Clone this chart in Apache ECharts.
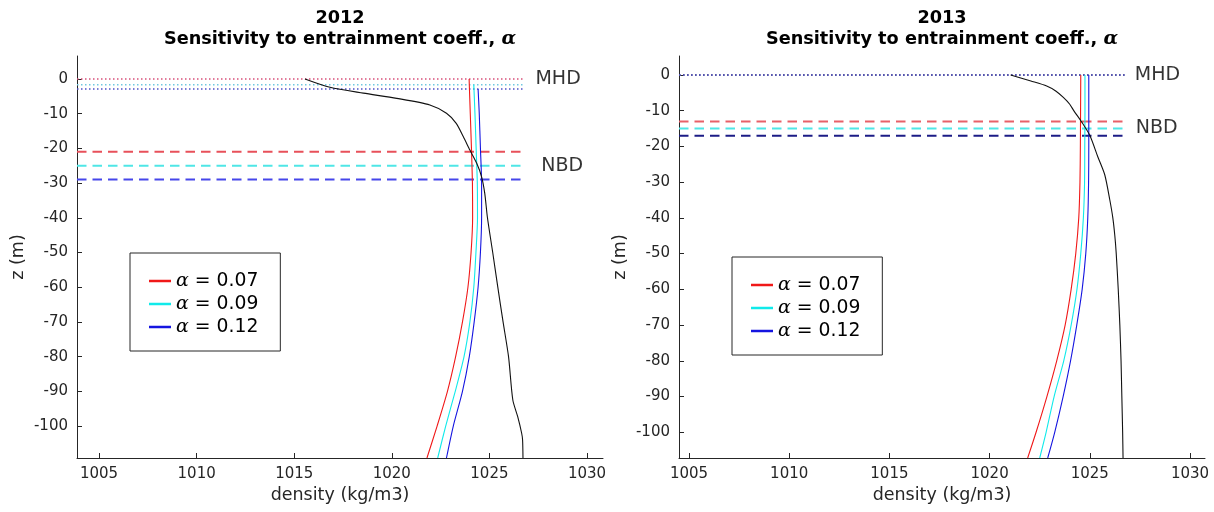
<!DOCTYPE html>
<html>
<head>
<meta charset="utf-8">
<script src="https://cdn.jsdelivr.net/npm/echarts@6/dist/echarts.min.js"></script>
<style>
  html, body { margin: 0; padding: 0; background: #fff; }
  #chart { width: 1214px; height: 512px; }
</style>
</head>
<body>
<div id="chart"></div>
<script>
// ---- data ----
var years = ['2012', '2013'];
var alphaNames = ['α = 0.07', 'α = 0.09', 'α = 0.12'];
var xTicks = [1005, 1010, 1015, 1020, 1025, 1030];
var yTicks = [0, -10, -20, -30, -40, -50, -60, -70, -80, -90, -100];

// 2012
var mhd2012 = [0, -1.7, -2.9];
var nbd2012 = [-21, -25, -29];
var obsZ2012 = [0, -2.4, -4.1, -5.6, -7.5, -9.9, -12.8, -16.6, -20.5, -24.3, -28.2, -32.9, -40, -50, -60, -70, -80, -92.5, -97.3, -102, -104, -109.2];
var obsRho2012 = [1015.55, 1016.83, 1018.54, 1020.25, 1021.95, 1022.8, 1023.3, 1023.66, 1024.0, 1024.35, 1024.6, 1024.76, 1024.9, 1025.17, 1025.43, 1025.7, 1025.98, 1026.2, 1026.45, 1026.65, 1026.7, 1026.72];
var redZ2012 = [0, -10, -20, -30, -40, -50, -60, -70, -80, -90, -100, -109.2];
var redRho2012 = [1023.96, 1024.02, 1024.08, 1024.13, 1024.14, 1024.06, 1023.9, 1023.62, 1023.27, 1022.85, 1022.32, 1021.8];
var cyanZ2012 = [-1.7, -10, -20, -30, -40, -50, -60, -70, -80, -90, -100, -109.2];
var cyanRho2012 = [1024.2, 1024.26, 1024.32, 1024.38, 1024.39, 1024.31, 1024.2, 1024.0, 1023.7, 1023.25, 1022.76, 1022.35];
var blueZ2012 = [-2.9, -10, -20, -30, -40, -50, -60, -70, -80, -90, -100, -109.2];
var blueRho2012 = [1024.42, 1024.48, 1024.54, 1024.6, 1024.6, 1024.54, 1024.42, 1024.22, 1023.97, 1023.62, 1023.15, 1022.8];

// 2013
var mhd2013 = [0, 0, 0];
var nbd2013 = [-13, -15, -17];
var obsZ2013 = [0, -1.7, -3.1, -4.5, -6.3, -8.2, -10, -13.2, -16.9, -22.9, -28, -35, -40, -45, -50, -60, -70, -80, -90, -100, -107.2];
var obsRho2013 = [1021.05, 1022.06, 1022.85, 1023.3, 1023.68, 1024.0, 1024.2, 1024.6, 1025.0, 1025.4, 1025.75, 1026.0, 1026.15, 1026.25, 1026.32, 1026.42, 1026.5, 1026.56, 1026.6, 1026.64, 1026.66];
var modelZ2013 = [0, -10, -20, -30, -40, -50, -60, -70, -80, -90, -100, -107.2];
var redRho2013 = [1024.55, 1024.54, 1024.53, 1024.51, 1024.45, 1024.3, 1024.07, 1023.77, 1023.35, 1022.86, 1022.32, 1021.9];
var cyanRho2013 = [1024.76, 1024.76, 1024.75, 1024.74, 1024.68, 1024.55, 1024.36, 1024.07, 1023.7, 1023.22, 1022.82, 1022.5];
var blueRho2013 = [1024.95, 1024.95, 1024.95, 1024.94, 1024.9, 1024.8, 1024.62, 1024.35, 1024.04, 1023.67, 1023.25, 1022.9];

// horizontal MHD / NBD lines run from the left axis to this density
var lineEnd = 1026.8;
var labelX = [[1027.36, 1027.66], [1027.25, 1027.3]];

// ---- layout ----
var xRange = [[1003.87, 1030.82], [1004.5, 1030.75]];
var yRange = [[-109.2, 6.6], [-107.2, 5.3]];
var gridLeft = [77, 679];
var centers = [340, 942];
var legendPos = [[130, 253], [732, 257]];

var curveColors = ['#f01818', '#10eaea', '#1515e0'];
var dashColors = [['#e8505a', '#4fe6e6', '#4646ea'], ['#e86068', '#4fe6e6', '#1c1c86']];
var dotColors = [['#d8507a', '#70c8e0', '#5050c8'], ['#6060b8', '#6060b8', '#5050a8']];
var axisColor = '#262626';

function pairs(rho, z) {
  return rho.map(function (r, i) { return [r, z[i]]; });
}

var panels = [
  {
    mhd: mhd2012, nbd: nbd2012,
    obs: pairs(obsRho2012, obsZ2012),
    models: [pairs(redRho2012, redZ2012), pairs(cyanRho2012, cyanZ2012), pairs(blueRho2012, blueZ2012)]
  },
  {
    mhd: mhd2013, nbd: nbd2013,
    obs: pairs(obsRho2013, obsZ2013),
    models: [pairs(redRho2013, modelZ2013), pairs(cyanRho2013, modelZ2013), pairs(blueRho2013, modelZ2013)]
  }
];

var grids = [], xAxes = [], yAxes = [], titles = [], legends = [], series = [];

panels.forEach(function (p, k) {
  grids.push({ left: gridLeft[k], top: 56, width: 526, height: 402 });

  xAxes.push({
    type: 'value', gridIndex: k, min: xRange[k][0], max: xRange[k][1],
    name: 'density (kg/m3)', nameLocation: 'middle', nameGap: 28,
    nameTextStyle: { fontSize: 17.5, color: axisColor, fontFamily: 'DejaVu Sans' },
    axisLine: { onZero: false, lineStyle: { color: axisColor, width: 1 } },
    axisTick: { inside: true, length: 5, customValues: xTicks, lineStyle: { color: axisColor } },
    axisLabel: {
      customValues: xTicks, margin: 9, fontSize: 15, color: axisColor, fontFamily: 'DejaVu Sans',
      formatter: function (v) { return String(v); }
    },
    splitLine: { show: false }
  });

  yAxes.push({
    type: 'value', gridIndex: k, min: yRange[k][0], max: yRange[k][1],
    name: 'z (m)', nameLocation: 'middle', nameGap: 50,
    nameTextStyle: { fontSize: 17.5, color: axisColor, fontFamily: 'DejaVu Sans' },
    axisLine: { onZero: false, lineStyle: { color: axisColor, width: 1 } },
    axisTick: { inside: true, length: 5, customValues: yTicks, lineStyle: { color: axisColor } },
    axisLabel: {
      customValues: yTicks, margin: 9, fontSize: 15, color: axisColor, fontFamily: 'DejaVu Sans',
      formatter: function (v) { return String(v); }
    },
    splitLine: { show: false }
  });

  titles.push({
    text: '{t|' + years[k] + '}\n{t|Sensitivity to entrainment coeff., }{a|α}',
    left: centers[k], top: 8, textAlign: 'center', padding: 0,
    textStyle: {
      fontSize: 17.7, fontWeight: 'bold', color: '#000', fontFamily: 'DejaVu Sans', lineHeight: 21,
      rich: {
        t: { fontSize: 17.7, fontWeight: 'bold', color: '#000', fontFamily: 'DejaVu Sans', lineHeight: 21 },
        a: { fontSize: 19, fontStyle: 'italic', fontFamily: 'DejaVu Serif', color: '#000', lineHeight: 21 }
      }
    }
  });

  legends.push({
    data: alphaNames, orient: 'vertical',
    left: legendPos[k][0], top: legendPos[k][1],
    icon: 'rect', itemWidth: 22, itemHeight: 2.5, itemGap: 3,
    padding: [18, 22, 14, 19],
    borderColor: axisColor, borderWidth: 1, backgroundColor: '#fff',
    selectedMode: false,
    formatter: function (name) { return name.replace('α', '{a|α}'); },
    textStyle: {
      fontSize: 18.8, color: '#000', fontFamily: 'DejaVu Sans', lineHeight: 20,
      rich: { a: { fontSize: 19, fontStyle: 'italic', fontFamily: 'DejaVu Serif', color: '#000', lineHeight: 20 } }
    }
  });

  // MHD (dotted) and NBD (dashed) reference lines
  p.mhd.forEach(function (z, i) {
    series.push({
      type: 'line', xAxisIndex: k, yAxisIndex: k, symbol: 'none', silent: true, z: 1,
      data: [[xRange[k][0], z], [lineEnd, z]],
      lineStyle: { color: dotColors[k][i], width: 1.5, type: [1.5, 2.5] }
    });
  });
  p.nbd.forEach(function (z, i) {
    series.push({
      type: 'line', xAxisIndex: k, yAxisIndex: k, symbol: 'none', silent: true, z: 1,
      data: [[xRange[k][0], z], [lineEnd, z]],
      lineStyle: { color: dashColors[k][i], width: 2, type: [9.5, 6] }
    });
  });

  // model profiles
  p.models.forEach(function (d, i) {
    series.push({
      name: alphaNames[i], type: 'line', xAxisIndex: k, yAxisIndex: k,
      symbol: 'none', smooth: 0.25, color: curveColors[i], z: 3,
      data: d, lineStyle: { color: curveColors[i], width: 1.1 }
    });
  });

  // observed profile
  series.push({
    type: 'line', xAxisIndex: k, yAxisIndex: k, symbol: 'none', smooth: 0.25, z: 4,
    data: p.obs, lineStyle: { color: '#111', width: 1.1 }
  });

  // MHD / NBD labels
  var nbdMean = p.nbd.reduce(function (a, b) { return a + b; }, 0) / p.nbd.length;
  series.push({
    type: 'scatter', xAxisIndex: k, yAxisIndex: k, symbolSize: 1, silent: true,
    itemStyle: { color: 'rgba(0,0,0,0)' },
    data: [
      { name: 'MHD', value: [labelX[k][0], p.mhd[0]] },
      { name: 'NBD', value: [labelX[k][1], nbdMean] }
    ],
    label: {
      show: true, position: 'inside', align: 'left', verticalAlign: 'middle',
      formatter: '{b}', fontSize: 19, color: '#000', fontFamily: 'DejaVu Sans'
    }
  });
});

var myChart = echarts.init(document.getElementById('chart'), null, { renderer: 'canvas' });
myChart.setOption({
  backgroundColor: '#fff',
  animation: false,
  title: titles,
  legend: legends,
  grid: grids,
  xAxis: xAxes,
  yAxis: yAxes,
  series: series
});
</script>
</body>
</html>
